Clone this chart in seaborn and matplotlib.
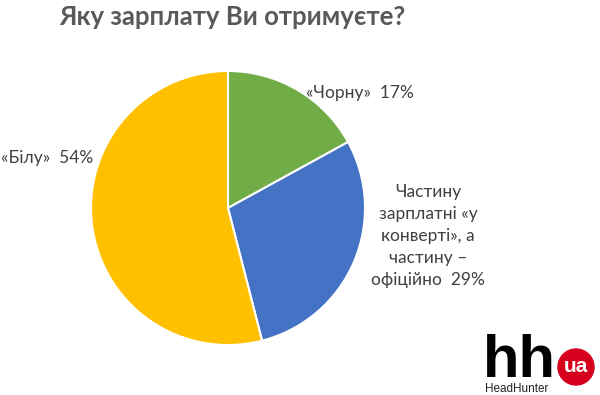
import matplotlib
matplotlib.use('Agg')
import matplotlib.pyplot as plt
import seaborn as sns
from matplotlib.patches import Circle

# Data
categories = ['«Чорну»', 'Частину\nзарплатні «у\nконверті», а\nчастину –\nофіційно', '«Білу»']
shares = [17, 29, 54]
colors = ['#70AD47', '#4472C4', '#FFC000']
title = 'Яку зарплату Ви отримуєте?'

sns.set_theme(style='white')
plt.rcParams['font.family'] = ['Lato', 'DejaVu Sans']

W, H = 600, 395
fig = plt.figure(figsize=(W / 100, H / 100), dpi=100)
fig.patch.set_facecolor('white')


def fx(px):
    return px / W


def fy(py):
    return 1 - py / H


# Pie axes: center ~ (228, 208) px, radius ~137 px
cx, cy, r = 228, 208, 137
ax = fig.add_axes([fx(cx - r), fy(cy + r), 2 * r / W, 2 * r / H])
ax.pie(shares, colors=colors, startangle=90, counterclock=False,
       wedgeprops=dict(edgecolor='white', linewidth=1.5))
ax.set_xlim(-1, 1)
ax.set_ylim(-1, 1)
ax.set_aspect('auto')

fig.text(fx(232), fy(17), title, ha='center', va='center',
         fontsize=18.5, fontweight='bold', color='#595959')

label_color = '#404040'
fig.text(fx(360), fy(93), f'{categories[0]}  {shares[0]}%', ha='center', va='center',
         fontsize=12.5, color=label_color)
fig.text(fx(428), fy(236), categories[1].replace('офіційно', f'офіційно  {shares[1]}%'),
         ha='center', va='center', fontsize=12.5, color=label_color, linespacing=1.45)
fig.text(fx(47), fy(158), f'{categories[2]}  {shares[2]}%', ha='center', va='center',
         fontsize=12.5, color=label_color)

# hh.ua logo
logo_font = ['Liberation Sans', 'DejaVu Sans']
lax = fig.add_axes([0, 0, 1, 1], facecolor='none')
lax.set_xlim(0, W)
lax.set_ylim(H, 0)
lax.axis('off')
lax.text(483, 377, 'hh', ha='left', va='baseline', fontsize=43,
         fontweight='bold', color='black', family=logo_font)
lax.text(485, 389, 'HeadHunter', ha='left', va='center', fontsize=8.5,
         color='#222222', family=logo_font)
lax.add_patch(Circle((576, 367), 18, color='#D6001C'))
lax.text(576, 366, 'ua', ha='center', va='center', fontsize=15, fontweight='bold',
         color='white', family=logo_font)

fig.savefig('out.png', dpi=100, facecolor='white')
